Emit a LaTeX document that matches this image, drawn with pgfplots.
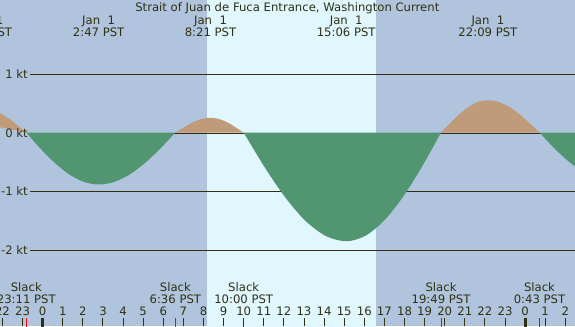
\documentclass[border=0pt]{standalone}
\usepackage{pgfplots}
\pgfplotsset{compat=1.18}
\usepackage{fontspec}
\setmainfont{DejaVu Sans}
\definecolor{night}{RGB}{176,196,222}
\definecolor{day}{RGB}{224,247,255}
\definecolor{flood}{RGB}{192,155,122}
\definecolor{ebb}{RGB}{81,150,112}
\definecolor{ink}{RGB}{48,48,16}
\begin{document}
\begin{tikzpicture}[x=1bp,y=1bp,font=\fontsize{11.7}{13}\selectfont]
\useasboundingbox (0,0) rectangle (575,326);
\clip (0,0) rectangle (575,326);
\begin{axis}[
  at={(0,0)}, anchor=south west,
  scale only axis, width=575bp, height=326bp,
  xmin=-2.124, xmax=26.483, ymin=-3.299, ymax=2.274,
  axis background/.style={fill=night},
  axis on top,
  axis x line=bottom, axis y line=none,
  axis line style={draw=none},
  xtick={-2,-1,0,1,2,3,4,5,6,7,8,9,10,11,12,13,14,15,16,17,18,19,20,21,22,23,24,25,26},
  xticklabels={22,23,0,1,2,3,4,5,6,7,8,9,10,11,12,13,14,15,16,17,18,19,20,21,22,23,0,1,2},
  tick align=inside, major tick length=8bp,
  tick style={ink, line width=1bp},
  xticklabel style={anchor=base, yshift=10.3bp, text=ink, inner sep=0pt},
  ytick=\empty,
  clip=true,
]
% day band
\addplot[draw=none, fill=day] coordinates {(8.16,-3.5) (16.57,-3.5) (16.57,2.5) (8.16,2.5)} -- cycle;
% speed lines
\addplot[ink, line width=1bp] coordinates {(-0.63,1) (26.6,1)};
\addplot[ink, line width=1bp] coordinates {(-0.63,0) (26.6,0)};
\addplot[ink, line width=1bp] coordinates {(-0.63,-1) (26.6,-1)};
\addplot[ink, line width=1bp] coordinates {(-0.63,-2) (26.6,-2)};
% flood lobes
\addplot[draw=none, fill=flood, smooth] coordinates {
 (-4.18,0.241) (-3.761,0.332) (-3.341,0.390) (-2.92,0.41) (-2.499,0.390) (-2.079,0.332)
 (-1.658,0.241) (-1.238,0.127) (-0.817,0.0085)} -- cycle;
\addplot[draw=none, fill=flood, smooth] coordinates {
 (6.6,0.0085) (6.95,0.080) (7.30,0.153) (7.65,0.210) (8.00,0.247) (8.35,0.26)
 (8.68,0.247) (9.01,0.210) (9.34,0.153) (9.67,0.080) (10.0,0.0085)} -- cycle;
\addplot[draw=none, fill=flood, smooth] coordinates {
 (19.817,0.0085) (20.284,0.173) (20.750,0.329) (21.217,0.453) (21.683,0.533) (22.15,0.56)
 (22.663,0.533) (23.177,0.453) (23.690,0.329) (24.204,0.173) (24.717,0.0085)} -- cycle;
% ebb lobes
\addplot[draw=none, fill=ebb, smooth] coordinates {
 (-0.817,0.0085) (-0.097,-0.272) (0.623,-0.517) (1.343,-0.712) (2.063,-0.837) (2.783,-0.88)
 (3.546,-0.837) (4.310,-0.712) (5.073,-0.517) (5.837,-0.272) (6.6,0.0085)} -- cycle;
\addplot[draw=none, fill=ebb, smooth] coordinates {
 (10.0,0.0085) (11.02,-0.572) (12.04,-1.088) (13.06,-1.497) (14.08,-1.759) (15.1,-1.85)
 (16.043,-1.759) (16.987,-1.497) (17.930,-1.088) (18.874,-0.572) (19.817,0.0085)} -- cycle;
\addplot[draw=none, fill=ebb, smooth] coordinates {
 (24.717,0.0085) (25.414,-0.247) (26.110,-0.470) (26.807,-0.647) (27.503,-0.761) (28.2,-0.8)
 (28.2,0.0085)} -- cycle;
% midnight ticks
\addplot[ink, line width=3bp] coordinates {(0,-3.4) (0,-3.162)};
\addplot[ink, line width=3bp] coordinates {(24,-3.4) (24,-3.162)};
% slack ticks
\addplot[red, line width=1bp] coordinates {(-0.817,-3.4) (-0.817,-3.17)};
\addplot[red, line width=1bp] coordinates {(6.6,-3.4) (6.6,-3.17)};
\addplot[red, line width=1bp] coordinates {(10.0,-3.4) (10.0,-3.17)};
\addplot[red, line width=1bp] coordinates {(19.817,-3.4) (19.817,-3.17)};
\addplot[red, line width=1bp] coordinates {(24.717,-3.4) (24.717,-3.17)};
% speed labels
\node[anchor=east, inner sep=0pt, text=ink] at (axis cs:-0.73,1) {1 kt};
\node[anchor=east, inner sep=0pt, text=ink] at (axis cs:-0.73,0) {0 kt};
\node[anchor=east, inner sep=0pt, text=ink] at (axis cs:-0.73,-1) {-1 kt};
\node[anchor=east, inner sep=0pt, text=ink] at (axis cs:-0.73,-2) {-2 kt};
% title
\node[anchor=base, inner sep=0pt, text=ink] at (axis cs:12.17,2.074) {Strait of Juan de Fuca Entrance, Washington Current};
% max labels
\node[anchor=base, inner sep=0pt, text=ink] at (axis cs:-2.985,1.863) {Dec\ 31};
\node[anchor=base, inner sep=0pt, text=ink] at (axis cs:-2.985,1.658) {21:03 PST};
\node[anchor=base, inner sep=0pt, text=ink] at (axis cs:2.783,1.863) {Jan\ \ 1};
\node[anchor=base, inner sep=0pt, text=ink] at (axis cs:2.783,1.658) {2:47 PST};
\node[anchor=base, inner sep=0pt, text=ink] at (axis cs:8.35,1.863) {Jan\ \ 1};
\node[anchor=base, inner sep=0pt, text=ink] at (axis cs:8.35,1.658) {8:21 PST};
\node[anchor=base, inner sep=0pt, text=ink] at (axis cs:15.1,1.863) {Jan\ \ 1};
\node[anchor=base, inner sep=0pt, text=ink] at (axis cs:15.1,1.658) {15:06 PST};
\node[anchor=base, inner sep=0pt, text=ink] at (axis cs:22.15,1.863) {Jan\ \ 1};
\node[anchor=base, inner sep=0pt, text=ink] at (axis cs:22.15,1.658) {22:09 PST};
% slack labels
\node[anchor=base, inner sep=0pt, text=ink] at (axis cs:-0.817,-2.701) {Slack};
\node[anchor=base, inner sep=0pt, text=ink] at (axis cs:-0.817,-2.911) {23:11 PST};
\node[anchor=base, inner sep=0pt, text=ink] at (axis cs:6.6,-2.701) {Slack};
\node[anchor=base, inner sep=0pt, text=ink] at (axis cs:6.6,-2.911) {6:36 PST};
\node[anchor=base, inner sep=0pt, text=ink] at (axis cs:10.0,-2.701) {Slack};
\node[anchor=base, inner sep=0pt, text=ink] at (axis cs:10.0,-2.911) {10:00 PST};
\node[anchor=base, inner sep=0pt, text=ink] at (axis cs:19.817,-2.701) {Slack};
\node[anchor=base, inner sep=0pt, text=ink] at (axis cs:19.817,-2.911) {19:49 PST};
\node[anchor=base, inner sep=0pt, text=ink] at (axis cs:24.717,-2.701) {Slack};
\node[anchor=base, inner sep=0pt, text=ink] at (axis cs:24.717,-2.911) {0:43 PST};
\end{axis}
\end{tikzpicture}
\end{document}
